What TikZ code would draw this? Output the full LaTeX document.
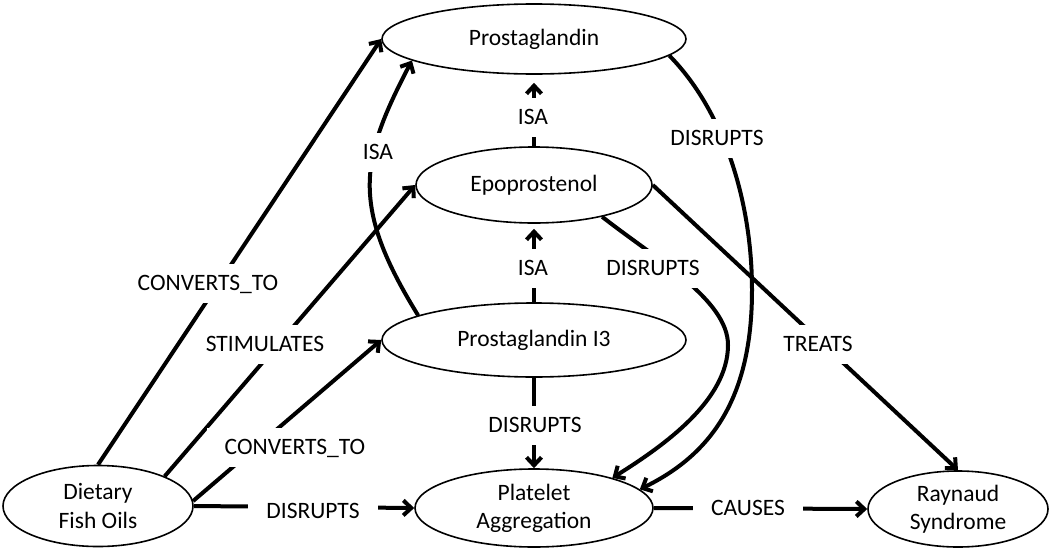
\documentclass[tikz,border=0pt]{standalone}
\usepackage{fontspec}
\setmainfont{Carlito}
\usetikzlibrary{arrows.meta,shapes.geometric}
\begin{document}
\begin{tikzpicture}[x=1pt,y=-1pt,
  every node/.style={font=\fontsize{23.5}{28.2}\selectfont},
  ent/.style={ellipse,draw,line width=1.6pt,inner sep=0pt,align=center},
  edge/.style={line width=4pt,-{Straight Barb[length=8pt,width=15pt]}},
  lbl/.style={fill=white,inner xsep=18pt,inner ysep=12pt,text height=15pt,text depth=0pt}]
\useasboundingbox (0,0) rectangle (1050,549);

% entities
\node[ent,minimum width=304pt,minimum height=70pt] (pg)  at (534,39)  {Prostaglandin};
\node[ent,minimum width=236pt,minimum height=76pt] (ep)  at (534,185) {Epoprostenol};
\node[ent,minimum width=304pt,minimum height=74pt] (pg3) at (534,340) {Prostaglandin I3};
\node[ent,minimum width=238pt,minimum height=78pt] (pa)  at (534,508) {Platelet\\Aggregation};
\node[ent,minimum width=190pt,minimum height=81pt] (dfo) at (98,506)  {Dietary\\Fish Oils};
\node[ent,minimum width=180pt,minimum height=76pt] (rs)  at (958,509) {Raynaud\\Syndrome};

% relations
\draw[edge] (dfo.24) -- (ep.west) node[lbl] at (265,344) {STIMULATES};
\draw[edge] (dfo.90) -- (pg.west) node[lbl] at (208,283) {CONVERTS\_TO};
\draw[edge] (dfo.3) -- (pg3.west) node[lbl] at (295,447) {CONVERTS\_TO};
\draw[edge] (dfo.east) -- (pa.west) node[lbl] at (313,511) {DISRUPTS};
\draw[edge] (pa.east) -- (rs.west) node[lbl] at (748,508) {CAUSES};
\draw[edge] (pg3.168) .. controls (350,205) and (360,160) .. (pg.190)
  node[lbl] at (378,152) {ISA};
\draw[edge,shorten >=8pt] (ep.north) -- (pg.south) node[lbl] at (533,117) {ISA};
\draw[edge,shorten >=5pt] (pg3.north) -- (ep.south) node[lbl] at (533,268) {ISA};
\draw[edge] (pg3.south) -- (pa.north) node[lbl] at (535,425) {DISRUPTS};
\draw[edge] (ep.335) .. controls (656,259) and (728,300) .. (728,345)
  .. controls (728,400) and (665,445) .. (pa.21)
  node[lbl] at (653,268) {DISRUPTS};
\draw[edge] (pg.353) .. controls (723,110) and (752,200) .. (752,290)
  .. controls (752,400) and (710,455) .. (pa.10)
  node[lbl] at (717,138) {DISRUPTS};
\draw[edge] (ep.east) -- (rs.north) node[lbl] at (818,344) {TREATS};
\end{tikzpicture}
\end{document}
